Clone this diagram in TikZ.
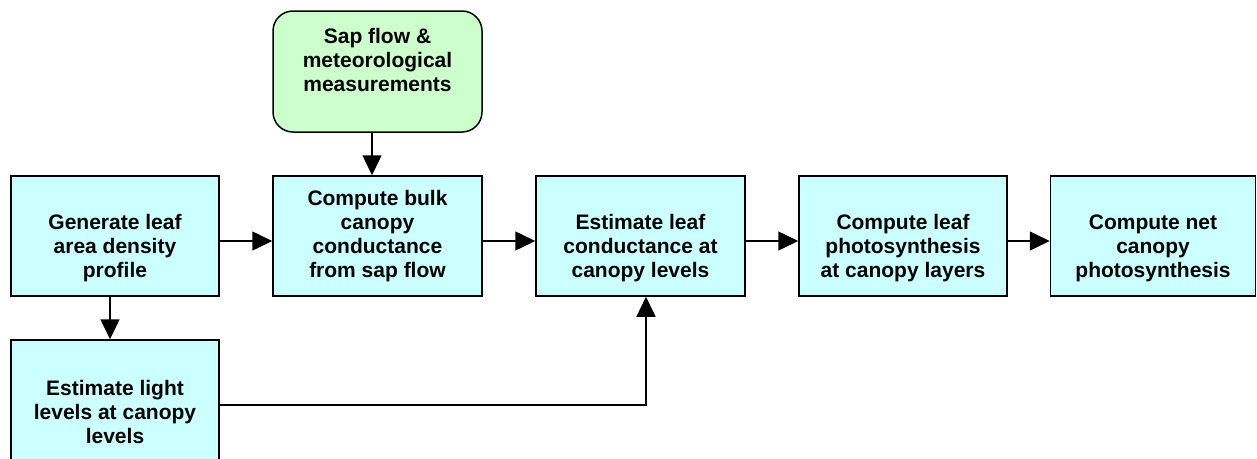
\documentclass[tikz,border=0pt]{standalone}
\usepackage{fontspec}
\setmainfont{Liberation Sans}
\usetikzlibrary{arrows.meta}
\definecolor{boxcyan}{HTML}{CCFFFF}
\definecolor{boxgreen}{HTML}{CCFFCC}
\newcommand{\lowerline}{\rule{0pt}{15pt}\\}
\newcommand{\raiseline}{\\\mbox{}}
\tikzset{
  procbox/.style={draw=black, fill=boxcyan, line width=1.5pt, minimum width=208pt, minimum height=120pt,
    align=center, inner sep=0pt, font=\bfseries\fontsize{21}{24}\selectfont},
  inbox/.style={draw=black, fill=boxgreen, line width=1.5pt, rounded corners=20pt, minimum width=209pt, minimum height=121pt,
    align=center, inner sep=0pt, font=\bfseries\fontsize{21}{24}\selectfont},
  conn/.style={line width=1.5pt, -{Triangle[length=20pt,width=19pt]}}
}
\begin{document}
\begin{tikzpicture}[x=1pt,y=-1pt]
\useasboundingbox (0,0) rectangle (1257,458);
\clip (0,0) rectangle (1257,458);
\node[inbox] (sap) at (377.5,71.5) {Sap flow \&\\meteorological\\measurements\raiseline};
\node[procbox] (gen) at (115,236) {\lowerline Generate leaf\\area density\\profile};
\node[procbox, minimum width=209pt] (bulk) at (377.5,236) {Compute bulk\\canopy\\conductance\\from sap flow};
\node[procbox, minimum width=209pt] (est) at (640.5,236) {\lowerline Estimate leaf\\conductance at\\canopy levels};
\node[procbox] (photo) at (903,236) {\lowerline Compute leaf\\photosynthesis\\at canopy layers};
\node[procbox, minimum width=205pt] (net) at (1153,236) {\lowerline Compute net\\canopy\\photosynthesis};
\node[procbox] (light) at (115,400) {\lowerline Estimate light\\levels at canopy\\levels};
\coordinate (turn) at (646,405);
\draw[conn] (sap.south -| 372,0) -- (bulk.north -| 372,0);
\draw[conn] (gen.east |- 0,241) -- (bulk.west |- 0,241);
\draw[conn] (bulk.east |- 0,241) -- (est.west |- 0,241);
\draw[conn] (est.east |- 0,241) -- (photo.west |- 0,241);
\draw[conn] (photo.east |- 0,241) -- (net.west |- 0,241);
\draw[conn] (gen.south -| 110,0) -- (light.north -| 110,0);
\draw[conn] (light.east |- turn) -- (turn) -- (est.south -| turn);
\end{tikzpicture}
\end{document}
